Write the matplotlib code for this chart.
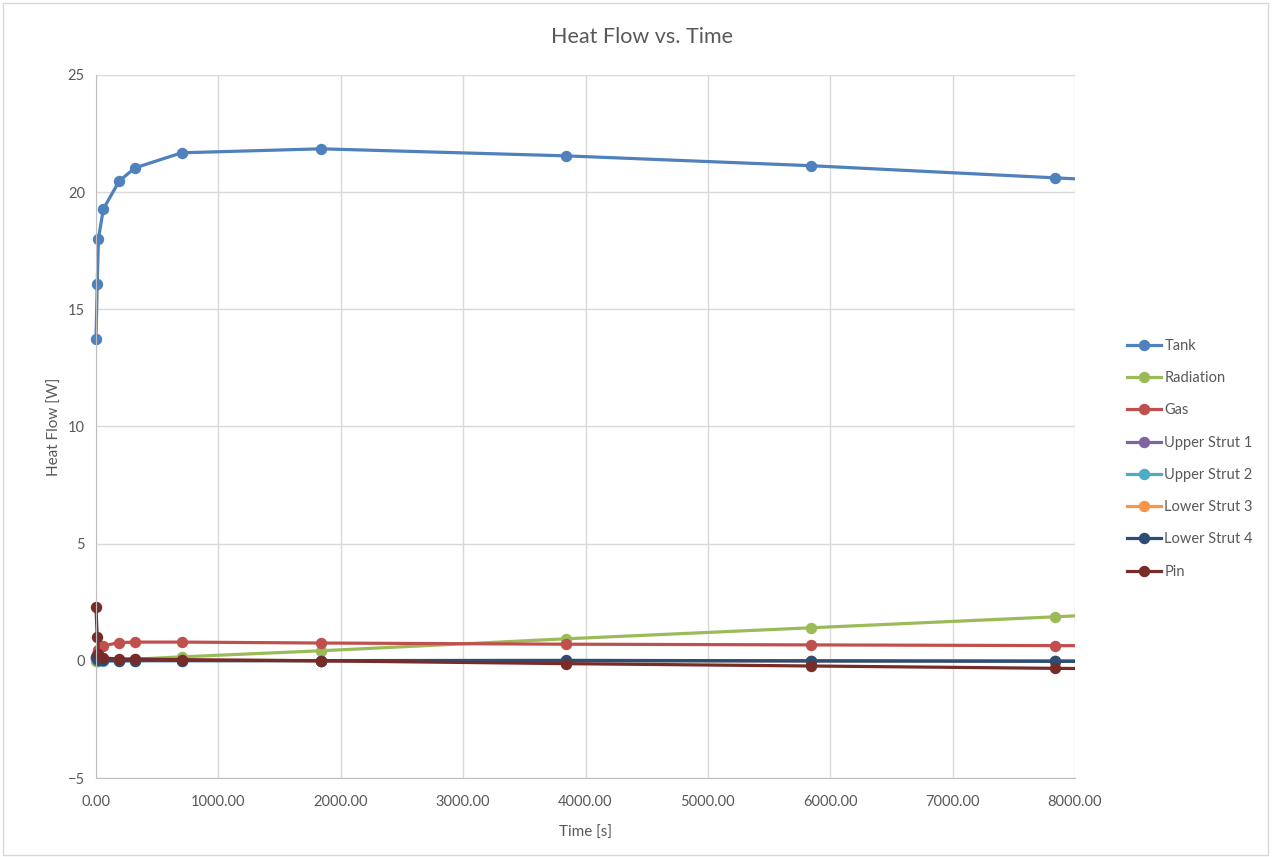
import matplotlib.pyplot as plt
from matplotlib.patches import Rectangle

plt.rcParams['font.family'] = ['Lato', 'DejaVu Sans']

time_s = [0, 10, 20, 60, 190, 320, 700, 1840, 3840, 5840, 7840, 9840]

tank = [13.74, 16.09, 18.01, 19.28, 20.48, 21.04, 21.68, 21.85, 21.55, 21.13, 20.61, 20.10]
radiation = [0.0, 0.0, 0.01, 0.02, 0.04, 0.07, 0.17, 0.43, 0.94, 1.41, 1.88, 2.35]
gas = [0.15, 0.30, 0.45, 0.64, 0.78, 0.80, 0.80, 0.76, 0.71, 0.68, 0.65, 0.61]
upper_strut_1 = [0.10, 0.05, 0.03, 0.02, 0.02, 0.02, 0.02, 0.01, 0.01, 0.0, 0.0, 0.0]
upper_strut_2 = [0.05, 0.02, 0.0, -0.02, 0.0, 0.01, 0.01, 0.01, 0.0, 0.0, 0.0, 0.0]
lower_strut_3 = [0.12, 0.06, 0.04, 0.02, 0.02, 0.02, 0.02, 0.01, 0.01, 0.0, 0.0, 0.0]
lower_strut_4 = [0.15, 0.08, 0.04, 0.02, 0.0, 0.01, 0.01, 0.01, 0.02, 0.0, -0.02, -0.03]
pin = [2.30, 1.00, 0.30, 0.12, 0.08, 0.08, 0.05, 0.0, -0.12, -0.22, -0.32, -0.42]

names = ['Tank', 'Radiation', 'Gas', 'Upper Strut 1', 'Upper Strut 2',
         'Lower Strut 3', 'Lower Strut 4', 'Pin']
series = [tank, radiation, gas, upper_strut_1, upper_strut_2,
          lower_strut_3, lower_strut_4, pin]
colors = ['#4F81BD', '#9BBB59', '#C0504D', '#8064A2', '#4BACC6',
          '#F79646', '#2C4D75', '#772C2A']

x_max = 8000

fig = plt.figure(figsize=(12.73, 8.57), dpi=100)
ax = fig.add_axes((96 / 1273, 1 - 778 / 857, 979 / 1273, 703 / 857))

# clip only on the right (Excel cuts the line at the axis max)
clip = Rectangle((-0.02, -0.02), 1.02, 1.04, transform=ax.transAxes)

handles = []
for name, vals, c in zip(names, series, colors):
    ln, = ax.plot(time_s, vals, color=c, lw=2.3, solid_joinstyle='round')
    ln.set_clip_path(clip)
    xs = [t for t in time_s if t <= x_max]
    ys = [v for t, v in zip(time_s, vals) if t <= x_max]
    ax.plot(xs, ys, ls='none', marker='o', markersize=7.2, color=c, clip_on=False)
    h, = ax.plot([], [], color=c, lw=2.3, marker='o', markersize=7.2, label=name)
    handles.append(h)

ax.set_xlim(0, x_max)
ax.set_ylim(-5, 25)
ax.set_xticks(range(0, x_max + 1, 1000))
ax.set_xticklabels(['%.2f' % v for v in range(0, x_max + 1, 1000)])
ax.set_yticks(range(-5, 26, 5))
ax.tick_params(length=0, colors='#595959', labelsize=10.5)
ax.tick_params(axis='x', pad=12)
ax.tick_params(axis='y', pad=8)
ax.grid(True, color='#D9D9D9', lw=1)
ax.set_axisbelow(True)
for side in ['top', 'right']:
    ax.spines[side].set_visible(False)
ax.spines['left'].set_color('#BFBFBF')
ax.spines['bottom'].set_color('#BFBFBF')

ax.set_xlabel('Time [s]', color='#595959', fontsize=11, labelpad=12)
ax.set_ylabel('Heat Flow [W]', color='#595959', fontsize=11, labelpad=4)
fig.text(642 / 1273, 1 - 37 / 857, 'Heat Flow vs. Time', ha='center', va='center',
         fontsize=15.5, color='#595959')

leg = ax.legend(handles=handles, loc='center left', bbox_to_anchor=(1.04, 0.454),
                frameon=False, fontsize=10.5, labelspacing=1.25, handlelength=2.3,
                handletextpad=0.25)
for t in leg.get_texts():
    t.set_color('#595959')

fig.patches.append(Rectangle((0.002, 0.002), 0.994, 0.994, transform=fig.transFigure,
                             fill=False, edgecolor='#D9D9D9', lw=1))

fig.savefig('out.png', dpi=100)
